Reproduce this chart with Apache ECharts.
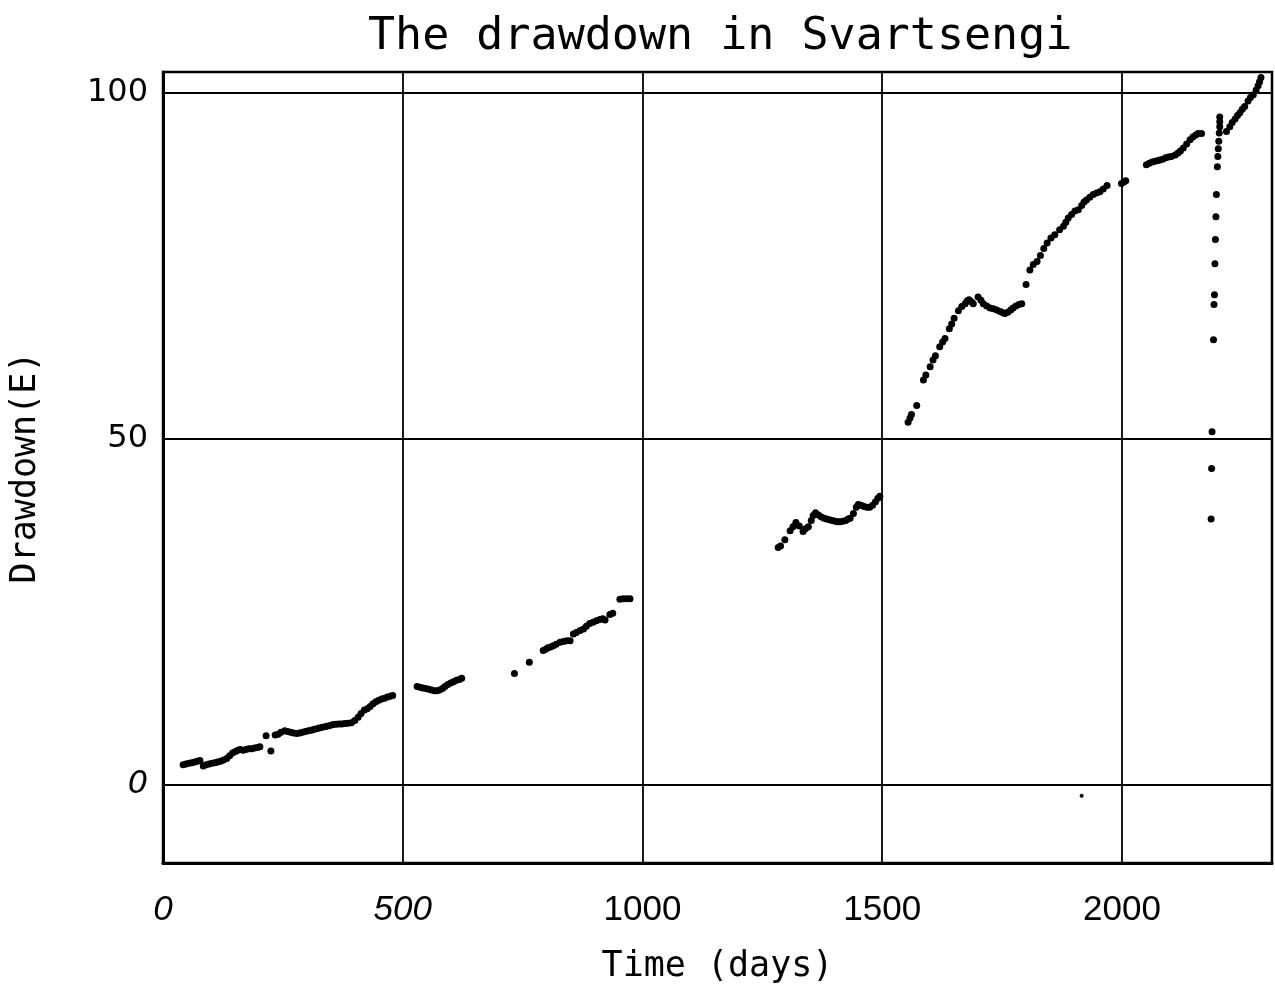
<!DOCTYPE html>
<html>
<head>
<meta charset="utf-8">
<script src="https://cdn.jsdelivr.net/npm/echarts@6/dist/echarts.min.js"></script>
<style>html,body{margin:0;padding:0;background:#fff}#c{width:1275px;height:990px}</style>
</head>
<body>
<div id="c"></div>
<script>
// Time (days), Drawdown (m)
const seg1Days = [42,48,54,60,66,72,77,84,90,96,102,108,114,120,126,133,139,145,151,156,161,167,173,179,185,191,197,202,215,225,234,240,246,254,260,266,272,279,285,291,297,303,309,314,320,326,332,338,344,350,355,361,367,373,379,386,393,400,407,413,420,426,432,438,444,450,456,462,468,474,479];
const seg1Vals = [2.9,3.0,3.1,3.2,3.3,3.4,3.5,2.7,2.9,3.0,3.1,3.2,3.3,3.4,3.6,3.8,4.2,4.6,4.8,5.0,5.1,5.0,5.1,5.2,5.2,5.3,5.4,5.5,7.1,4.9,7.2,7.3,7.6,7.8,7.7,7.6,7.5,7.4,7.5,7.6,7.7,7.8,7.9,8.0,8.1,8.2,8.3,8.4,8.5,8.6,8.7,8.75,8.8,8.8,8.85,8.9,8.95,9.3,9.75,10.3,10.8,11.0,11.3,11.7,12.0,12.2,12.4,12.5,12.7,12.8,12.9];

const seg2Days = [530,536,542,548,554,560,566,571,577,583,588,594,600,606,612,618,623,733,764,793,798,803,808,814,820,828,835,842,849,856,862,870,877,883,890,897,904,911,917,922,932,938,953,960,967,974];
const seg2Vals = [14.2,14.1,14.0,13.9,13.8,13.7,13.6,13.6,13.7,13.9,14.2,14.5,14.7,14.9,15.1,15.2,15.4,16.1,17.7,19.4,19.6,19.8,19.9,20.1,20.3,20.6,20.7,20.8,20.8,21.8,22.0,22.3,22.5,22.9,23.3,23.5,23.7,23.9,24.0,23.8,24.6,24.8,26.8,26.9,26.9,26.9];

const seg3Days = [1283,1288,1297,1308,1314,1320,1327,1335,1340,1346,1352,1356,1361,1367,1373,1379,1384,1390,1396,1402,1407,1412,1418,1424,1429,1433,1440,1446,1450,1456,1462,1468,1474,1480,1486,1491,1495];
const seg3Vals = [34.3,34.5,35.4,36.7,37.3,37.9,37.4,36.6,37.0,37.3,38.2,38.9,39.3,39.0,38.7,38.5,38.4,38.3,38.2,38.1,38.0,38.0,38.1,38.2,38.4,38.5,39.2,40.1,40.5,40.4,40.2,40.1,40.1,40.4,40.9,41.4,41.7];

const seg4Days = [1554,1558,1561,1572,1586,1591,1600,1606,1611,1620,1626,1631,1640,1645,1650,1659,1666,1673,1677,1681,1686,1690,1700,1706,1711,1718,1725,1732,1739,1746,1752,1756,1762,1768,1773,1779,1785,1791,1800,1808,1815,1823,1830,1837,1844,1852,1860,1870,1878,1883,1888,1895,1902,1909,1916,1921,1926,1933,1940,1947,1954,1961,1969,1999,2004,2008,2051,2057,2063,2069,2075,2079,2085,2091,2097,2103,2111,2117,2122,2128,2135,2142,2148,2154,2159,2166];
const seg4Vals = [52.4,53.0,53.5,54.8,58.5,59.2,60.4,61.4,62.0,63.3,64.0,64.5,65.9,66.6,67.4,68.5,69.1,69.5,69.9,70.1,69.8,69.5,70.5,70.0,69.5,69.2,68.9,68.8,68.6,68.4,68.2,68.1,68.3,68.6,68.9,69.2,69.4,69.5,72.3,74.4,75.2,75.6,76.5,77.5,78.3,79.0,79.5,80.2,80.7,81.3,81.9,82.4,82.9,83.1,83.7,84.2,84.5,84.9,85.3,85.5,85.7,86.1,86.6,86.9,87.1,87.3,89.6,89.8,90.0,90.1,90.2,90.3,90.4,90.6,90.7,90.8,91.0,91.3,91.6,92.0,92.6,93.2,93.6,93.9,94.1,94.1];

const seg5Days = [2186,2187,2188,2191,2192,2193,2194,2195,2196,2197,2199,2200,2201,2202,2203,2204,2204,2204,2218,2225,2230,2236,2241,2246,2251,2256,2263,2268,2274,2280,2284,2287,2290];
const seg5Vals = [38.4,45.7,51.0,64.3,69.4,70.8,75.3,78.8,82.1,85.3,89.3,90.8,91.9,93.0,94.2,95.1,95.8,96.5,94.4,95.1,95.7,96.2,96.7,97.1,97.6,98.0,98.8,99.3,99.7,100.4,101.0,101.6,102.2];

const strayDays = [1916];
const strayVals = [-1.6];

const xTicks = [0, 500, 1000, 1500, 2000];
const yTicks = [0, 50, 100];
const italicLabels = [0, 500];

function pairs(d, v) { return d.map((x, i) => [x, v[i]]); }
const mainData = [].concat(
  pairs(seg1Days, seg1Vals), pairs(seg2Days, seg2Vals), pairs(seg3Days, seg3Vals),
  pairs(seg4Days, seg4Vals), pairs(seg5Days, seg5Vals));

const chart = echarts.init(document.getElementById('c'), null, {renderer: 'canvas'});
chart.setOption({
  backgroundColor: '#fff',
  animation: false,
  title: {
    text: 'The drawdown in Svartsengi',
    left: 363, top: 10,
    textStyle: {fontFamily: 'DejaVu Sans Mono', fontSize: 45, fontWeight: 'normal', color: '#000'}
  },
  grid: {
    left: 163, top: 72, right: 3, bottom: 127,
    show: true, borderColor: '#000', borderWidth: 2.5, backgroundColor: 'transparent'
  },
  xAxis: {
    type: 'value', min: 0, max: 2313,
    name: 'Time (days)', nameLocation: 'middle', nameGap: 86,
    nameTextStyle: {fontFamily: 'DejaVu Sans Mono', fontSize: 35, color: '#000'},
    axisLine: {show: true, onZero: false, lineStyle: {color: '#000', width: 3}},
    axisTick: {show: false, customValues: xTicks},
    axisLabel: {
      customValues: xTicks, margin: 30, color: '#000',
      fontFamily: 'Liberation Sans', fontSize: 35,
      formatter: v => (italicLabels.indexOf(v) >= 0 ? '{i|' + v + '}' : '{n|' + v + '}'),
      rich: {
        i: {fontFamily: 'Liberation Sans', fontSize: 35, fontStyle: 'italic', color: '#000'},
        n: {fontFamily: 'Liberation Sans', fontSize: 35, color: '#000'}
      }
    },
    splitLine: {show: true, lineStyle: {color: '#000', width: 1.8}}
  },
  yAxis: {
    type: 'value', min: -11.3, max: 103,
    name: 'Drawdown(E)', nameLocation: 'middle', nameGap: 120, nameRotate: 90,
    nameTextStyle: {fontFamily: 'DejaVu Sans Mono', fontSize: 35, color: '#000'},
    axisLine: {show: true, onZero: false, lineStyle: {color: '#000', width: 3}},
    axisTick: {show: false, customValues: yTicks},
    axisLabel: {
      customValues: yTicks, margin: 15, color: '#000',
      fontFamily: 'DejaVu Sans', fontSize: 32,
      formatter: v => (v === 0 ? '{i|' + v + '}' : '{n|' + v + '}'),
      rich: {
        i: {fontFamily: 'DejaVu Sans', fontSize: 32, fontStyle: 'italic', color: '#000'},
        n: {fontFamily: 'DejaVu Sans', fontSize: 32, color: '#000'}
      }
    },
    splitLine: {show: true, lineStyle: {color: '#000', width: 1.8}}
  },
  series: [
    {
      type: 'scatter', data: mainData, symbol: 'circle', symbolSize: 7,
      itemStyle: {color: '#000', opacity: 1}, z: 5
    },
    {
      type: 'scatter', data: pairs(strayDays, strayVals), symbol: 'circle', symbolSize: 4,
      itemStyle: {color: '#000', opacity: 1}, z: 5
    }
  ]
});
</script>
</body>
</html>
